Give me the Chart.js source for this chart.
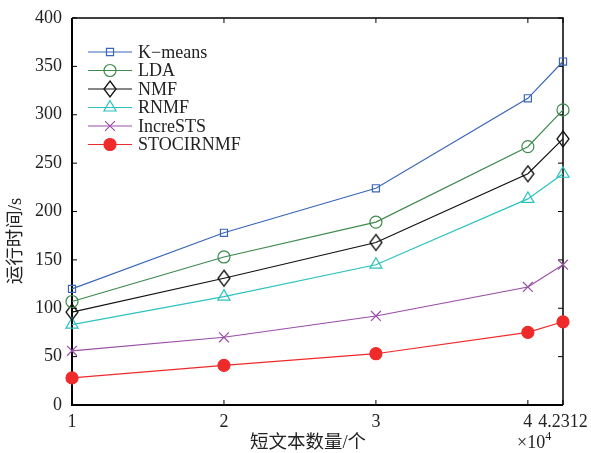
<!DOCTYPE html>
<html>
<head>
<meta charset="utf-8">
<script src="https://cdn.jsdelivr.net/npm/chart.js@4/dist/chart.umd.min.js"></script>
<style>
  html, body { margin: 0; padding: 0; background: #fff; }
  canvas { display: block; }
</style>
</head>
<body>
<canvas id="c" width="591" height="453"></canvas>
<script>
// Number of short texts (×10^4) and the matching tick labels
const xValues = [1, 2, 3, 4, 4.2312];
const xTickLabels = ['1', '2', '3', '4', '4.2312'];
const yTickValues = [0, 50, 100, 150, 200, 250, 300, 350, 400];

// Running time in seconds per method
const seriesNames = ['K\u2212means', 'LDA', 'NMF', 'RNMF', 'IncreSTS', 'STOCIRNMF'];
const kmeansTime   = [120, 178, 224, 317, 355];
const ldaTime      = [107, 153, 189, 267, 305];
const nmfTime      = [96, 131, 168, 239, 275];
const rnmfTime     = [83, 112, 145, 213, 239];
const increstsTime = [56, 70, 92, 122, 145];
const stocirnmfTime = [28, 41, 53, 75, 86];

const SERIF = '"Liberation Serif", "Times New Roman", "Noto Sans CJK SC", serif';

// Open diamond marker, taller than wide
function makeDiamond(w, h, color, lw) {
  const c = document.createElement('canvas');
  c.width = w + 4; c.height = h + 4;
  const g = c.getContext('2d');
  g.strokeStyle = color; g.lineWidth = lw;
  const cx = c.width / 2, cy = c.height / 2;
  g.beginPath();
  g.moveTo(cx, cy - h / 2);
  g.lineTo(cx + w / 2, cy);
  g.lineTo(cx, cy + h / 2);
  g.lineTo(cx - w / 2, cy);
  g.closePath();
  g.stroke();
  return c;
}

const pts = v => xValues.map((x, i) => ({ x, y: v[i] }));

function series(label, values, color, style, radius, fill) {
  return {
    label,
    data: pts(values),
    borderColor: color,
    backgroundColor: fill || 'rgba(0,0,0,0)',
    pointBorderColor: color,
    pointBackgroundColor: fill || 'rgba(0,0,0,0)',
    borderWidth: 1.2,
    pointBorderWidth: 1.2,
    pointStyle: style,
    pointRadius: radius,
    pointHoverRadius: radius,
    tension: 0,
    clip: false
  };
}

const datasets = [
  series(seriesNames[0], kmeansTime, '#3b67b8', 'rect', 5),
  series(seriesNames[1], ldaTime, '#3d8a4e', 'circle', 6),
  series(seriesNames[2], nmfTime, '#111111', makeDiamond(12, 16, '#111111', 1.3), 7),
  series(seriesNames[3], rnmfTime, '#2cc2bf', 'triangle', 7),
  series(seriesNames[4], increstsTime, '#9a4ea6', 'crossRot', 7),
  series(seriesNames[5], stocirnmfTime, '#ee2a2a', 'circle', 6, '#ee2a2a')
];

// Boxed frame with inward tick marks on all four sides
const framePlugin = {
  id: 'frame',
  beforeDatasetsDraw(chart) {
    const { ctx, chartArea: a, scales } = chart;
    ctx.save();
    ctx.strokeStyle = '#000';
    ctx.lineWidth = 1;
    const tl = 5;
    scales.x.ticks.forEach(t => {
      const px = scales.x.getPixelForValue(t.value);
      ctx.beginPath();
      ctx.moveTo(px, a.bottom); ctx.lineTo(px, a.bottom - tl);
      ctx.moveTo(px, a.top); ctx.lineTo(px, a.top + tl);
      ctx.stroke();
    });
    scales.y.ticks.forEach(t => {
      const py = scales.y.getPixelForValue(t.value);
      ctx.beginPath();
      ctx.moveTo(a.left, py); ctx.lineTo(a.left + tl, py);
      ctx.moveTo(a.right, py); ctx.lineTo(a.right - tl, py);
      ctx.stroke();
    });
    ctx.lineWidth = 1.5;
    ctx.beginPath();
    ctx.moveTo(a.left, a.top); ctx.lineTo(a.right, a.top); ctx.lineTo(a.right, a.bottom);
    ctx.stroke();
    ctx.lineWidth = 2;
    ctx.beginPath();
    ctx.moveTo(a.left, a.top); ctx.lineTo(a.left, a.bottom); ctx.lineTo(a.right, a.bottom);
    ctx.stroke();
    ctx.restore();
  },
  afterDraw(chart) {
    const { ctx } = chart;
    ctx.save();
    ctx.fillStyle = '#222';
    ctx.font = '18.5px ' + SERIF;
    ctx.textBaseline = 'middle';
    // axis titles
    ctx.textAlign = 'center';
    ctx.fillText('短文本数量/个', 308, 443);
    ctx.save();
    ctx.translate(16, 241);
    ctx.rotate(-Math.PI / 2);
    ctx.fillText('运行时间/s', 0, 0);
    ctx.restore();
    // exponent marker
    ctx.textAlign = 'left';
    ctx.font = '18px ' + SERIF;
    ctx.fillText('\u00d710', 517, 443);
    const w = ctx.measureText('\u00d710').width;
    ctx.font = '12px ' + SERIF;
    ctx.fillText('4', 517 + w, 437);

    // legend: line sample with marker, then label
    const x0 = 88, x1 = 132, xm = 110, xt = 138;
    chart.data.datasets.forEach((ds, i) => {
      const y = 52 + i * 18.5;
      ctx.strokeStyle = ds.borderColor;
      ctx.lineWidth = ds.borderWidth;
      ctx.beginPath(); ctx.moveTo(x0, y); ctx.lineTo(x1, y); ctx.stroke();
      ctx.fillStyle = ds.pointBackgroundColor;
      ctx.strokeStyle = ds.pointBorderColor;
      ctx.lineWidth = ds.pointBorderWidth;
      Chart.helpers.drawPoint(ctx, {
        pointStyle: ds.pointStyle, radius: ds.pointRadius, rotation: 0, borderWidth: ds.pointBorderWidth
      }, xm, y);
      ctx.fillStyle = '#222';
      ctx.font = '18px ' + SERIF;
      ctx.textAlign = 'left';
      ctx.fillText(ds.label, xt, y + 1);
    });
    ctx.restore();
  }
};

new Chart(document.getElementById('c'), {
  type: 'line',
  data: { datasets },
  options: {
    responsive: false,
    devicePixelRatio: 1,
    animation: false,
    events: [],
    layout: { padding: { top: 18, right: 28, left: 0, bottom: 0 } },
    plugins: { legend: { display: false }, tooltip: { enabled: false } },
    scales: {
      x: {
        type: 'linear',
        min: xValues[0],
        max: xValues[xValues.length - 1],
        afterBuildTicks: s => { s.ticks = xValues.map(v => ({ value: v })); },
        afterFit: s => { s.height = 48; s.paddingLeft = 0; s.paddingRight = 0; },
        grid: { display: false, drawTicks: false },
        border: { display: false },
        ticks: {
          autoSkip: false, maxRotation: 0, padding: 6,
          color: '#222', font: { family: SERIF, size: 18 },
          callback: (v) => xTickLabels[xValues.indexOf(v)]
        }
      },
      y: {
        type: 'linear',
        min: yTickValues[0],
        max: yTickValues[yTickValues.length - 1],
        afterBuildTicks: s => { s.ticks = yTickValues.map(v => ({ value: v })); },
        afterFit: s => { s.width = 72; s.paddingTop = 0; s.paddingBottom = 0; },
        grid: { display: false, drawTicks: false },
        border: { display: false },
        ticks: {
          padding: 10, color: '#222', font: { family: SERIF, size: 18 }
        }
      }
    }
  },
  plugins: [framePlugin]
});
</script>
</body>
</html>
